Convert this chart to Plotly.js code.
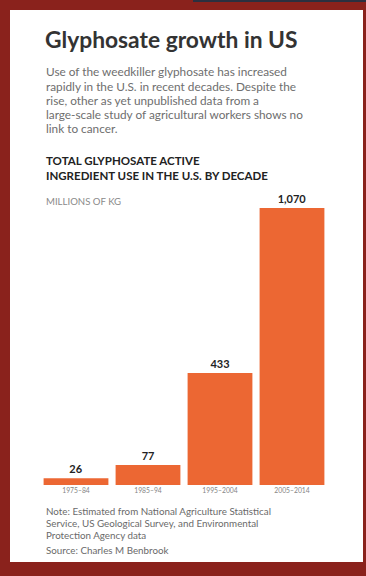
<!DOCTYPE html>
<html>
<head>
<meta charset="utf-8">
<script src="https://cdn.plot.ly/plotly-3.0.1.min.js"></script>
<style>
  html, body { margin: 0; padding: 0; background: #8a221c; }
  #chart { width: 366px; height: 576px; }
</style>
</head>
<body>
<div id="chart"></div>
<script>
// ---- data ----
const decades = ['1975–84', '1985–94', '1995–2004', '2005–2014'];
const useMillionsKg = [26, 77, 433, 1070];
const valueLabels = ['26', '77', '433', '1,070'];

const titleText = 'Glyphosate growth in US';
const introLines = [
  'Use of the weedkiller glyphosate has increased',
  'rapidly in the U.S. in recent decades. Despite the',
  'rise, other as yet unpublished data from a',
  'large-scale study of agricultural workers shows no',
  'link to cancer.'
];
const chartTitleLines = [
  'TOTAL GLYPHOSATE ACTIVE',
  'INGREDIENT USE IN THE U.S. BY DECADE'
];
const unitText = 'MILLIONS OF KG';
const noteLines = [
  'Note: Estimated from National Agriculture Statistical',
  'Service, US Geological Survey, and Environmental',
  'Protection Agency data'
];
const sourceText = 'Source: Charles M Benbrook';

// ---- layout geometry (pixels) ----
const W = 366, H = 576;
const L = 40, R = 38, T = 208, B = 91;
const plotW = W - L - R, plotH = H - T - B;
const px = x => (x - L) / plotW;
const py = y => (H - B - y) / plotH;

const FONT = 'Lato, "Open Sans", sans-serif';
const ann = [];
function addText(text, x, y, size, color, bold) {
  ann.push({
    text: bold ? '<b>' + text + '</b>' : text,
    xref: 'paper', yref: 'paper', x: px(x), y: py(y),
    xanchor: 'left', yanchor: 'middle', align: 'left',
    showarrow: false,
    font: { family: FONT, size: size, color: color }
  });
}
addText(titleText, 43, 39, 22.8, '#333333', true);
introLines.forEach((t, i) => addText(t, 44, 72 + i * 14.2, 11.8, '#6e6e6e', false));
chartTitleLines.forEach((t, i) => addText(t, 44, 160 + i * 15, 11.5, '#222222', true));
addText(unitText, 44, 201.5, 9.6, '#8a8a8a', false);
noteLines.forEach((t, i) => addText(t, 44, 511 + i * 11.8, 9.8, '#6a6a6a', false));
addText(sourceText, 44, 550, 9.8, '#6a6a6a', false);

const shapes = [
  { type: 'rect', xref: 'paper', yref: 'paper', layer: 'below',
    x0: px(10), x1: px(363), y0: py(562), y1: py(10),
    fillcolor: '#ffffff', line: { width: 0 } },
  { type: 'rect', xref: 'paper', yref: 'paper', layer: 'below',
    x0: px(193), x1: px(366), y0: py(2), y1: py(0),
    fillcolor: '#2b3040', line: { width: 0 } }
];

const trace = {
  type: 'bar',
  x: decades,
  y: useMillionsKg,
  text: valueLabels,
  textposition: 'outside',
  texttemplate: '<b>%{text}</b>',
  textfont: { family: FONT, size: 11, color: '#222222' },
  cliponaxis: false,
  marker: { color: '#ec6733', line: { width: 0 } },
  hoverinfo: 'none'
};

const layout = {
  width: W, height: H,
  margin: { l: L, r: R, t: T, b: B, pad: 0 },
  paper_bgcolor: '#8a221c',
  plot_bgcolor: 'rgba(0,0,0,0)',
  bargap: 0.1,
  showlegend: false,
  xaxis: {
    type: 'category',
    showgrid: false, zeroline: false, showline: false,
    ticks: '', ticklen: 0,
    tickfont: { family: FONT, size: 6.8, color: '#858585' },
    fixedrange: true
  },
  yaxis: {
    range: [0, 1070],
    visible: false,
    showgrid: false, zeroline: false,
    fixedrange: true
  },
  annotations: ann,
  shapes: shapes
};

Plotly.newPlot('chart', [trace], layout, { displayModeBar: false, staticPlot: true });
</script>
</body>
</html>
